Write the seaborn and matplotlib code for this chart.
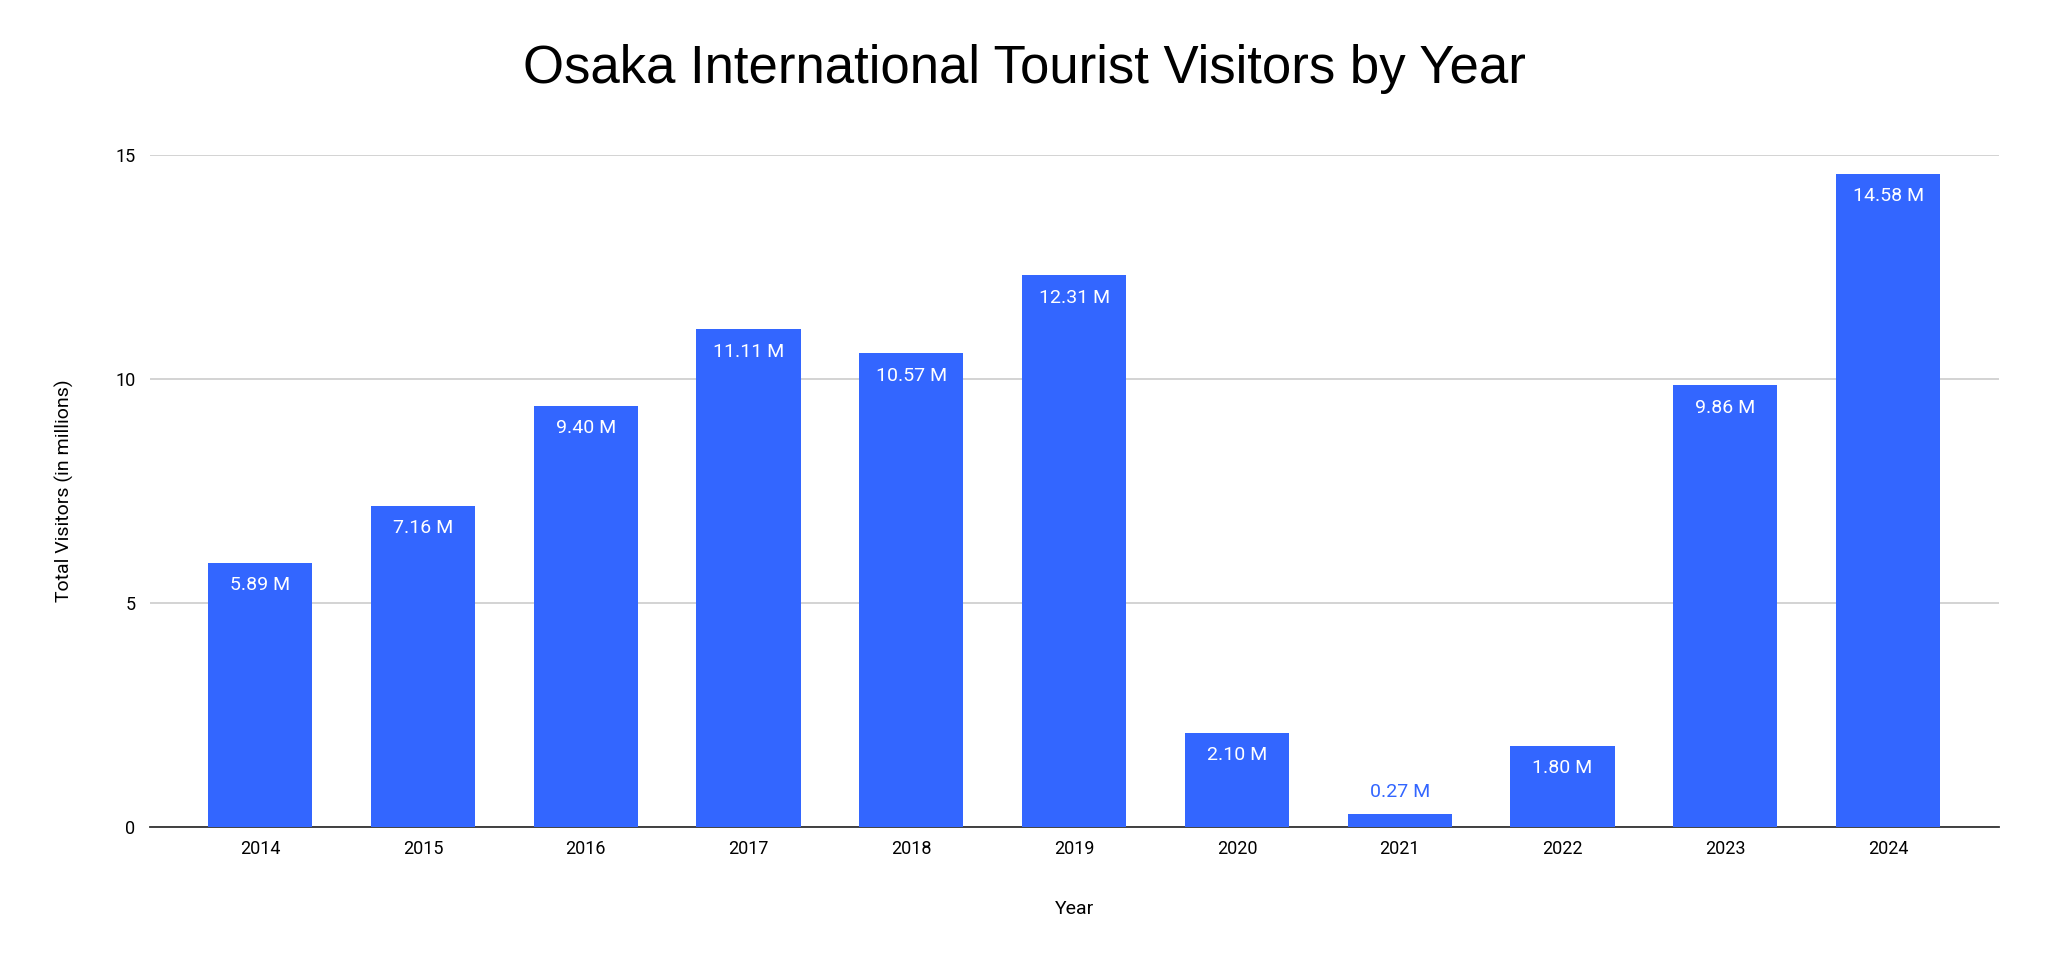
import matplotlib
matplotlib.use("Agg")
import matplotlib.pyplot as plt
import seaborn as sns
import pandas as pd

years = ["2014", "2015", "2016", "2017", "2018", "2019", "2020", "2021", "2022", "2023", "2024"]
visitors = [5.89, 7.16, 9.40, 11.11, 10.57, 12.31, 2.10, 0.27, 1.80, 9.86, 14.58]

sns.set_style("white")
plt.rcParams['font.family'] = ['Roboto', 'DejaVu Sans']
plt.rcParams['text.color'] = 'black'
plt.rcParams['axes.labelcolor'] = 'black'
plt.rcParams['xtick.color'] = 'black'
plt.rcParams['ytick.color'] = 'black'

df = pd.DataFrame({"Year": years, "Visitors": visitors})
bar_color = "#3366ff"

fig = plt.figure(figsize=(20.48, 9.69), dpi=100)
ax = fig.add_axes([0.073, 0.147, 0.903, 0.693])
sns.barplot(data=df, x="Year", y="Visitors", color=bar_color, saturation=1,
            width=0.64, ax=ax, zorder=3)
for p in ax.patches:
    p.set_edgecolor("none")

for i, v in enumerate(visitors):
    if v > 1:
        ax.text(i, v - 0.3, f"{v:.2f} M", ha="center", va="top", color="white", fontsize=14)
    else:
        ax.text(i, v + 0.3, f"{v:.2f} M", ha="center", va="bottom", color=bar_color, fontsize=14)

ax.set_xlim(-0.68, len(years) - 0.32)
ax.set_ylim(0, 15)
ax.set_yticks([0, 5, 10, 15])
ax.yaxis.grid(True, color="#cccccc", linewidth=1.2, zorder=0)
ax.set_axisbelow(True)
for s in ["top", "right", "left"]:
    ax.spines[s].set_visible(False)
ax.spines["bottom"].set_color("#333333")
ax.spines["bottom"].set_linewidth(1.3)
ax.tick_params(axis="both", labelsize=13, length=0, pad=10)
ax.set_xlabel("Year", fontsize=14, labelpad=30)
ax.set_ylabel("Total Visitors (in millions)", fontsize=14, labelpad=30)
fig.suptitle("Osaka International Tourist Visitors by Year", fontsize=38, y=0.955,
             family=['Liberation Sans', 'DejaVu Sans'])

fig.savefig("out.png", dpi=100)
